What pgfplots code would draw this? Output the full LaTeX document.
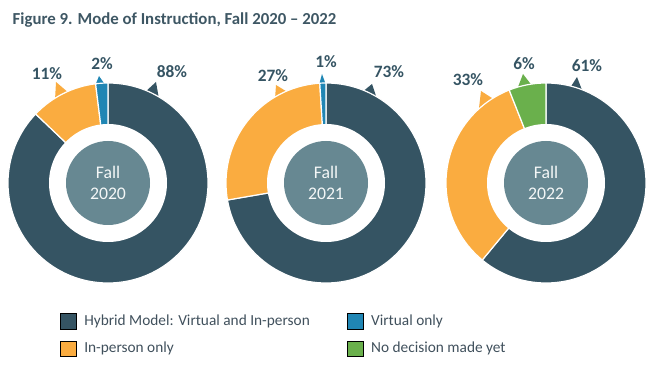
\documentclass[border=0pt]{standalone}
\usepackage{pgfplots}
\pgfplotsset{compat=1.18}
\usepackage{fontspec}
\setmainfont{Carlito}
\definecolor{dk}{RGB}{53,84,99}
\definecolor{og}{RGB}{250,172,64}
\definecolor{bl}{RGB}{32,134,180}
\definecolor{gn}{RGB}{106,176,76}
\definecolor{cg}{RGB}{103,136,146}
\definecolor{tt}{RGB}{62,87,100}
\definecolor{lt}{RGB}{64,80,92}
% slice: cx, cy, start angle, end angle, colour
\newcommand\slice[5]{\fill[#5, draw=white, line width=0.9pt] (axis cs:#1,#2) -- +(#3:75pt) arc[start angle=#3, end angle=#4, radius=75pt] -- cycle;}
\newcommand\hole[3]{\fill[white] (axis cs:#1,#2) circle[radius=44.25pt];
  \fill[cg] (axis cs:#1,#2) circle[radius=31.5pt];
  \node[text=white!93!cg, align=center, font=\fontsize{13.3}{16}\selectfont] at (axis cs:#1,#2) {Fall\\#3};}
\newcommand\lab[3]{\node[text=dk, font=\fontsize{13}{15}\selectfont\bfseries] at (axis cs:#1,#2) {#3\%};}
\begin{document}
\begin{tikzpicture}
% ---- data (percent) ----
% Fall 2020: Hybrid, In-person, Virtual
\def\HybA{88}\def\InpA{11}\def\VirA{2}
% Fall 2021: Hybrid, In-person, Virtual
\def\HybB{73}\def\InpB{27}\def\VirB{1}
% Fall 2022: Hybrid, In-person, No decision
\def\HybC{61}\def\InpC{33}\def\NodC{6}
\pgfmathsetmacro\SA{\HybA+\InpA+\VirA}
\pgfmathsetmacro\AAa{90-360/\SA*\HybA}
\pgfmathsetmacro\AAb{\AAa-360/\SA*\InpA}
\pgfmathsetmacro\SB{\HybB+\InpB+\VirB}
\pgfmathsetmacro\ABa{90-360/\SB*\HybB}
\pgfmathsetmacro\ABb{\ABa-360/\SB*\InpB}
\pgfmathsetmacro\SC{\HybC+\InpC+\NodC}
\pgfmathsetmacro\ACa{90-360/\SC*\HybC}
\pgfmathsetmacro\ACb{\ACa-360/\SC*\InpC}
\begin{axis}[
  scale only axis, width=498.75pt, height=279pt,
  xmin=0, xmax=665, ymin=0, ymax=372,
  hide axis, clip=false,
  legend columns=2,
  legend cell align=left,
  legend style={at={(axis cs:60,60)}, anchor=north west, draw=none, fill=none,
    font=\fontsize{11.5}{13}\selectfont, text=lt,
    /tikz/every odd column/.append style={column sep=4pt},
    /tikz/every even column/.append style={column sep=26pt},
    row sep=7pt, inner sep=0pt},
  legend image code/.code={\fill[#1] (0pt,-5.8pt) rectangle (11.6pt,5.8pt);},
]
\path (axis cs:0,0) rectangle (axis cs:665,372);
\addlegendimage{fill=dk}\addlegendentry{Hybrid Model: Virtual and In-person}
\addlegendimage{fill=bl}\addlegendentry{Virtual only}
\addlegendimage{fill=og}\addlegendentry{In-person only}
\addlegendimage{fill=gn}\addlegendentry{No decision made yet}
% callout pointers
\addplot[fill=dk, draw=none] coordinates {(144,279) (159,273) (156,290)} --cycle;
\addplot[fill=og, draw=none] coordinates {(55,272) (70,278) (56,290)} --cycle;
\addplot[fill=bl, draw=none] coordinates {(95,286) (106,286) (99,296)} --cycle;
\addplot[fill=dk, draw=none] coordinates {(361,279) (377,273) (372,288)} --cycle;
\addplot[fill=bl, draw=none] coordinates {(319,287) (326,287) (322,298)} --cycle;
\addplot[fill=og, draw=none] coordinates {(275,273) (289,279) (276,287)} --cycle;
\addplot[fill=og, draw=none] coordinates {(479,264) (495,272) (481,281)} --cycle;
\addplot[fill=gn, draw=none] coordinates {(518,285) (533,285) (523,298)} --cycle;
\addplot[fill=dk, draw=none] coordinates {(570,284) (582,282) (577,295)} --cycle;
% Fall 2020
\slice{108}{189}{90}{\AAa}{dk}
\slice{108}{189}{\AAa}{\AAb}{og}
\slice{108}{189}{\AAb}{-270}{bl}
\hole{108}{189}{2020}
% Fall 2021
\slice{326}{189}{90}{\ABa}{dk}
\slice{326}{189}{\ABa}{\ABb}{og}
\slice{326}{189}{\ABb}{-270}{bl}
\hole{326}{189}{2021}
% Fall 2022
\slice{546}{189}{90}{\ACa}{dk}
\slice{546}{189}{\ACa}{\ACb}{og}
\slice{546}{189}{\ACb}{-270}{gn}
\hole{546}{189}{2022}
% labels
\lab{47}{298}{\InpA}\lab{102}{308}{\VirA}\lab{172}{300}{\HybA}
\lab{273}{296}{\InpB}\lab{326}{310}{\VirB}\lab{389}{300}{\HybB}
\lab{468}{292}{\InpC}\lab{524}{308}{\NodC}\lab{587}{306}{\HybC}
\node[anchor=base west, text=tt, font=\fontsize{12.6}{15}\selectfont\bfseries] at (axis cs:8,347) {Figure 9. Mode of Instruction, Fall 2020 – 2022};
\end{axis}
\end{tikzpicture}
\end{document}
